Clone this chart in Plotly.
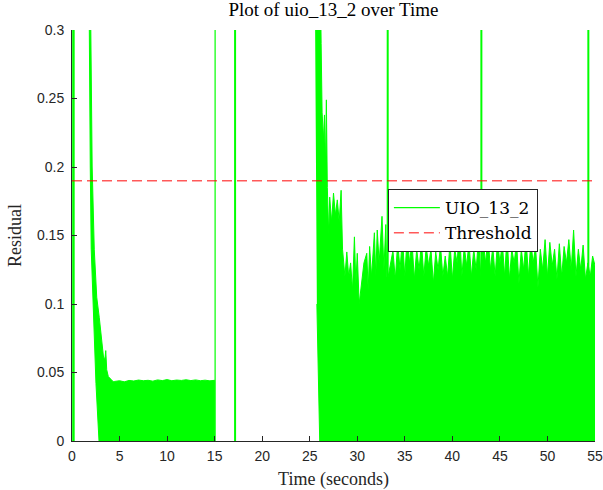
import plotly.graph_objects as go

# ---------------- data ----------------
# Segment 1: decaying band (1.8 s -> 15 s)
seg1_upper_t = [1.95, 2.12, 2.34, 2.60, 2.87, 3.12, 3.30, 3.45, 3.55, 3.65, 3.82, 4.10, 4.34,
                4.5, 5.0, 5.5, 6.0, 6.5, 7.0, 7.5, 8.0, 8.5, 9.0, 9.5, 10.0, 10.5, 11.0,
                11.5, 12.0, 12.5, 13.0, 13.5, 14.0, 14.5, 15.0]
seg1_upper_v = [0.32, 0.20, 0.14, 0.105, 0.090, 0.074, 0.062, 0.059, 0.066, 0.052, 0.047, 0.045, 0.0433,
                0.0435, 0.0440, 0.0432, 0.0442, 0.0438, 0.0445, 0.0440, 0.0443, 0.0437, 0.0446, 0.0441,
                0.0448, 0.0440, 0.0445, 0.0442, 0.0447, 0.0441, 0.0446, 0.0440, 0.0444, 0.0439, 0.0443]
seg1_lower_t = [1.80, 1.92, 2.02, 2.30, 2.52, 2.84, 15.0]
seg1_lower_v = [0.32, 0.20, 0.14, 0.09, 0.042, 0.0, 0.0]

# Segment 2: oscillating residual (25.5 s -> 55 s)
seg2_upper_t = [25.55, 26.15, 26.20, 26.30, 26.45, 26.55, 26.65, 26.75, 26.85, 27.0, 27.1, 27.3, 27.5,
                27.7, 27.9, 28.1, 28.3, 28.45, 28.7, 28.9, 29.1, 29.3, 29.5, 29.7, 29.85, 30.0,
                30.2, 30.5, 30.7, 31.0, 31.15, 31.3, 31.5, 31.8, 31.95, 32.1, 32.3, 32.6, 32.8,
                33.0, 33.1,
                33.25, 33.5, 33.75, 34.0, 34.25, 34.5,
                34.75, 35.0, 35.25, 35.5, 35.75, 36.0,
                36.25, 36.5, 36.75, 37.0, 37.25, 37.5,
                37.75, 38.0, 38.25, 38.5, 38.75, 39.0,
                39.25, 39.5, 39.75, 40.0, 40.25, 40.5,
                40.75, 41.0, 41.25, 41.5, 41.75, 42.0,
                42.25, 42.5, 42.75, 43.0, 43.25, 43.5,
                43.75, 44.0, 44.25, 44.5, 44.75, 45.0,
                45.25, 45.5, 45.75, 46.0, 46.25, 46.5,
                46.75, 47.0, 47.25, 47.5, 47.75, 48.0,
                48.25, 48.5, 48.75, 49.0, 49.25, 49.5,
                49.75, 50.0, 50.25, 50.5, 50.75, 51.0,
                51.25, 51.5, 51.75, 52.0, 52.25, 52.5,
                52.75, 53.0, 53.25, 53.5, 53.75, 54.0,
                54.25, 54.5, 54.75, 55.0]
seg2_upper_v = [0.32, 0.32, 0.29, 0.24, 0.22, 0.238, 0.20, 0.249, 0.185, 0.15, 0.178, 0.16, 0.181,
                0.165, 0.176, 0.16, 0.183, 0.14, 0.12, 0.138, 0.12, 0.13, 0.11, 0.149, 0.115, 0.137,
                0.10, 0.117, 0.13, 0.137, 0.11, 0.142, 0.12, 0.152, 0.12, 0.154, 0.13, 0.164, 0.125,
                0.158, 0.12,
                0.12, 0.13, 0.139, 0.118, 0.145, 0.125,
                0.149, 0.12, 0.15, 0.13, 0.146, 0.118,
                0.14, 0.125, 0.145, 0.12, 0.142, 0.128,
                0.14, 0.115, 0.138, 0.125, 0.143, 0.12,
                0.135, 0.12, 0.145, 0.118, 0.14, 0.13,
                0.155, 0.12, 0.142, 0.128, 0.145, 0.12,
                0.14, 0.125, 0.148, 0.12, 0.145, 0.13,
                0.15, 0.125, 0.142, 0.12, 0.146, 0.13,
                0.145, 0.12, 0.15, 0.118, 0.14, 0.13,
                0.145, 0.115, 0.14, 0.125, 0.148, 0.12,
                0.145, 0.13, 0.142, 0.112, 0.14, 0.125,
                0.147, 0.12, 0.145, 0.128, 0.14, 0.118,
                0.144, 0.12, 0.142, 0.13, 0.147, 0.125,
                0.154, 0.12, 0.14, 0.125, 0.143, 0.118,
                0.13, 0.12, 0.135, 0.128]
seg2_lower_t = [55.0, 26.05, 25.75]
seg2_lower_v = [0.0, 0.0, 0.10]

# Isolated spikes (clipped at the top of the axes)
spike_t = [0.15, 15.05, 17.15, 33.2, 43.05, 54.3]
spike_top = 0.35
spike_width = [2.5, 1.2, 2, 2, 2, 2]
legend_spike = 1  # the thin spike carries the legend entry

threshold = 0.19
x_range = [0, 55]
y_range = [0, 0.3]
x_ticks = [0, 5, 10, 15, 20, 25, 30, 35, 40, 45, 50, 55]
y_ticks = [0, 0.05, 0.1, 0.15, 0.2, 0.25, 0.3]
y_tick_text = ["0", "0.05", "0.1", "0.15", "0.2", "0.25", "0.3"]

GREEN = "#00ff00"
SERIF = "Liberation Serif, Times New Roman, serif"
LEG_SERIF = "DejaVu Serif, serif"
SANS = "Liberation Sans, Arial, sans-serif"
AX = "#262626"

fig = go.Figure()

# segment 1 polygon
x1 = seg1_upper_t + seg1_lower_t[::-1]
y1 = seg1_upper_v + seg1_lower_v[::-1]
fig.add_trace(go.Scatter(x=x1, y=y1, mode="lines", fill="toself", fillcolor=GREEN,
                         line=dict(color=GREEN, width=1), showlegend=False, hoverinfo="skip"))
# segment 2 polygon
x2 = seg2_upper_t + seg2_lower_t
y2 = seg2_upper_v + seg2_lower_v
fig.add_trace(go.Scatter(x=x2, y=y2, mode="lines", fill="toself", fillcolor=GREEN,
                         line=dict(color=GREEN, width=1), showlegend=False, hoverinfo="skip"))

for i, (t, w) in enumerate(zip(spike_t, spike_width)):
    fig.add_trace(go.Scatter(x=[t, t], y=[0, spike_top], mode="lines",
                             line=dict(color=GREEN, width=w),
                             name="UIO_13_2", showlegend=(i == legend_spike), legendrank=1))

fig.add_trace(go.Scatter(x=x_range, y=[threshold, threshold], mode="lines",
                         line=dict(color="rgba(255,0,0,0.65)", width=1.5, dash="10px,5px"),
                         name="Threshold", legendrank=2))

fig.update_layout(
    width=603, height=490,
    margin=dict(l=72, r=8, t=30, b=49, autoexpand=False),
    paper_bgcolor="white", plot_bgcolor="white",
    title=dict(text="Plot of uio_13_2 over Time", x=0.5, xref="paper", xanchor="center",
               y=1, yref="container", yanchor="top", pad=dict(t=3),
               font=dict(family=SERIF, size=19, color="black")),
    legend=dict(x=0.604, y=0.613, xanchor="left", yanchor="top",
                bgcolor="white", bordercolor=AX, borderwidth=1,
                font=dict(family=LEG_SERIF, size=17, color="black"),
                tracegroupgap=0, itemwidth=46),
    showlegend=True,
)
fig.update_xaxes(range=x_range, tickvals=x_ticks, ticks="inside", ticklen=5, tickcolor=AX,
                 showline=True, linecolor=AX, linewidth=1, showgrid=False, zeroline=False,
                 automargin=False, ticklabelstandoff=2,
                 tickfont=dict(family=SANS, size=14, color=AX),
                 title=dict(text="Time (seconds)", font=dict(family=SERIF, size=18, color=AX), standoff=10))
fig.update_yaxes(range=y_range, tickvals=y_ticks, ticktext=y_tick_text, ticks="inside", ticklen=5,
                 tickcolor=AX, showline=True, linecolor=AX, linewidth=1, showgrid=False, zeroline=False,
                 automargin=False, ticklabelstandoff=4,
                 tickfont=dict(family=SANS, size=14, color=AX),
                 title=dict(text="Residual", font=dict(family=SERIF, size=18, color=AX), standoff=10))

fig.write_html("out.html")
